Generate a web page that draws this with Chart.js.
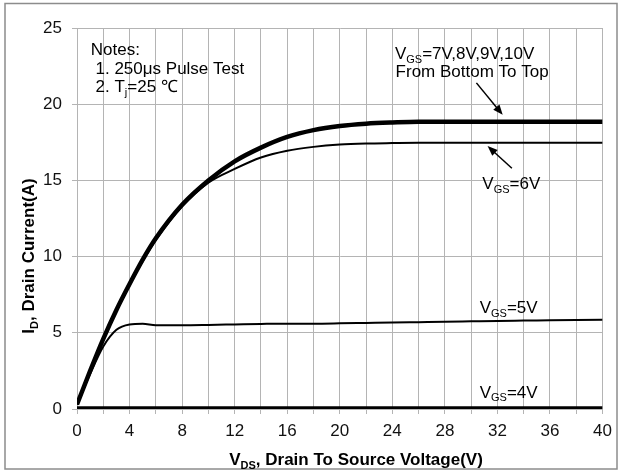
<!DOCTYPE html>
<html lang="en">
<head>
<meta charset="UTF-8">
<title>Output Characteristics</title>
<script src="https://cdn.jsdelivr.net/npm/chart.js"></script>
<style>
  body { margin: 0; background: #fff; }
  canvas { display: block; }
</style>
</head>
<body>
<canvas id="ivChart" width="619" height="471"></canvas>
<script>
  // V_DS sample points (V)
  const vds = [0, 1, 2, 3, 4, 5, 6, 8, 10, 12, 14, 16, 18, 20, 22, 24, 26, 28, 30, 32, 34, 36, 38, 40];

  // I_D (A)
  const id7to10V = [0.3, 2.5, 4.6, 6.5, 8.2, 9.8, 11.2, 13.4, 15.0, 16.25, 17.15, 17.85, 18.3, 18.57, 18.72, 18.8, 18.85, 18.85, 18.85, 18.85, 18.85, 18.85, 18.85, 18.85];
  const id6V = [0.3, 2.5, 4.6, 6.5, 8.2, 9.7, 11.1, 13.3, 14.85, 15.75, 16.5, 16.95, 17.2, 17.35, 17.42, 17.45, 17.47, 17.47, 17.47, 17.47, 17.47, 17.47, 17.47, 17.47];
  const id5V = [0.3, 2.3, 4.1, 5.2, 5.55, 5.6, 5.5, 5.5, 5.52, 5.55, 5.58, 5.6, 5.6, 5.62, 5.65, 5.68, 5.7, 5.72, 5.75, 5.78, 5.8, 5.82, 5.84, 5.86];
  const id4V = [0.05, 0.05, 0.05, 0.05, 0.05, 0.05, 0.05, 0.05, 0.05, 0.05, 0.05, 0.05, 0.05, 0.05, 0.05, 0.05, 0.05, 0.05, 0.05, 0.05, 0.05, 0.05, 0.05, 0.05];

  const xTicks = [0, 4, 8, 12, 16, 20, 24, 28, 32, 36, 40];
  const yTicks = [0, 5, 10, 15, 20, 25];

  const noteLines = ['Notes:', ' 1. 250\u03bcs Pulse Test', ' 2. T_{j}=25 \u2103'];
  const curveLabels = ['V_{GS}=7V,8V,9V,10V', 'From Bottom To Top', 'V_{GS}=6V', 'V_{GS}=5V', 'V_{GS}=4V'];

  const FONT = '"Liberation Sans", Arial, sans-serif';

  function pts(ys) {
    return vds.map((x, i) => ({ x: x, y: ys[i] }));
  }

  function line(label, ys, width) {
    return {
      label: label,
      data: pts(ys),
      borderColor: '#000',
      borderWidth: width,
      pointRadius: 0,
      fill: false,
      cubicInterpolationMode: 'monotone'
    };
  }

  // text with _{sub} parts
  function drawRich(ctx, spec, x, y, size, bold, align) {
    const parts = spec.split(/_\{([^}]*)\}/);
    const w = bold ? 'bold ' : '';
    const subSize = Math.round(size * 0.65);
    let total = 0;
    parts.forEach((p, i) => {
      ctx.font = w + (i % 2 ? subSize : size) + 'px ' + FONT;
      total += ctx.measureText(p).width;
    });
    let cx = align === 'center' ? x - total / 2 : x;
    ctx.textAlign = 'left';
    ctx.textBaseline = 'alphabetic';
    parts.forEach((p, i) => {
      const sub = i % 2 === 1;
      ctx.font = w + (sub ? subSize : size) + 'px ' + FONT;
      ctx.fillText(p, cx, sub ? y + size * 0.22 : y);
      cx += ctx.measureText(p).width;
    });
  }

  function arrow(ctx, x1, y1, x2, y2) {
    const a = Math.atan2(y2 - y1, x2 - x1);
    const hl = 10, hw = 4;
    ctx.save();
    ctx.strokeStyle = '#000';
    ctx.fillStyle = '#000';
    ctx.lineWidth = 1.5;
    ctx.beginPath();
    ctx.moveTo(x1, y1);
    ctx.lineTo(x2 - hl * Math.cos(a) * 0.8, y2 - hl * Math.sin(a) * 0.8);
    ctx.stroke();
    ctx.beginPath();
    ctx.moveTo(x2, y2);
    ctx.lineTo(x2 - hl * Math.cos(a) + hw * Math.sin(a), y2 - hl * Math.sin(a) - hw * Math.cos(a));
    ctx.lineTo(x2 - hl * Math.cos(a) - hw * Math.sin(a), y2 - hl * Math.sin(a) + hw * Math.cos(a));
    ctx.closePath();
    ctx.fill();
    ctx.restore();
  }

  const decor = {
    id: 'decor',
    beforeDraw(chart) {
      const ctx = chart.ctx;
      ctx.save();
      ctx.fillStyle = '#fff';
      ctx.fillRect(0, 0, chart.width, chart.height);
      ctx.strokeStyle = '#8c8c8c';
      ctx.lineWidth = 1.5;
      ctx.strokeRect(5, 3.5, 612, 465.5);
      ctx.restore();
    },
    afterDraw(chart) {
      const ctx = chart.ctx;
      const xs = chart.scales.x, ys = chart.scales.y;
      const px = v => xs.getPixelForValue(v);
      const py = v => ys.getPixelForValue(v);
      ctx.save();
      ctx.fillStyle = '#000';

      // notes
      drawRich(ctx, noteLines[0], px(1.05), py(23.25), 17, false);
      drawRich(ctx, noteLines[1], px(1.05), py(22.0), 17, false);
      drawRich(ctx, noteLines[2], px(1.05), py(20.8), 17, false);

      // curve labels
      drawRich(ctx, curveLabels[0], px(24.2), py(22.95), 17, false);
      drawRich(ctx, curveLabels[1], px(24.25), py(21.77), 17, false);
      drawRich(ctx, curveLabels[2], px(30.85), py(14.45), 17, false);
      drawRich(ctx, curveLabels[3], px(30.65), py(6.3), 17, false);
      drawRich(ctx, curveLabels[4], px(30.65), py(0.75), 17, false);

      arrow(ctx, px(30.4), py(21.4), px(32.4), py(19.3));
      arrow(ctx, px(33.1), py(15.8), px(31.25), py(17.25));

      // axis titles
      drawRich(ctx, 'V_{DS}, Drain To Source Voltage(V)', 356, 465, 17, true, 'center');
      ctx.translate(34, 256);
      ctx.rotate(-Math.PI / 2);
      drawRich(ctx, 'I_{D}, Drain Current(A)', 0, 0, 17, true, 'center');
      ctx.restore();
    }
  };

  const gridColor = '#b4b4b4';

  new Chart(document.getElementById('ivChart').getContext('2d'), {
    type: 'line',
    data: {
      datasets: [
        line('VGS=4V', id4V, 4),
        line('VGS=5V', id5V, 2),
        line('VGS=6V', id6V, 2),
        line('VGS=7V,8V,9V,10V', id7to10V, 4.5)
      ]
    },
    options: {
      responsive: false,
      animation: false,
      layout: { padding: { left: 0, top: 28, right: 16, bottom: 0 } },
      plugins: { legend: { display: false }, tooltip: { enabled: false } },
      scales: {
        x: {
          type: 'linear',
          min: 0,
          max: 40,
          afterFit: s => { s.height = 62; },
          afterBuildTicks: s => {
            const t = [];
            for (let v = 0; v <= 40; v += 2) t.push({ value: v });
            s.ticks = t;
          },
          ticks: {
            color: '#111',
            font: { family: FONT, size: 17 },
            padding: 7,
            maxRotation: 0,
            autoSkip: false,
            callback: v => xTicks.includes(v) ? String(v) : ''
          },
          grid: { color: gridColor, lineWidth: 1, tickLength: 5, tickColor: gridColor },
          border: { color: gridColor }
        },
        y: {
          min: 0,
          max: 25,
          afterFit: s => { s.width = 77; },
          afterBuildTicks: s => { s.ticks = yTicks.map(v => ({ value: v })); },
          ticks: {
            color: '#111',
            font: { family: FONT, size: 17 },
            padding: 10
          },
          grid: { color: gridColor, lineWidth: 1, tickLength: 5, tickColor: gridColor },
          border: { color: gridColor }
        }
      }
    },
    plugins: [decor]
  });
</script>
</body>
</html>
